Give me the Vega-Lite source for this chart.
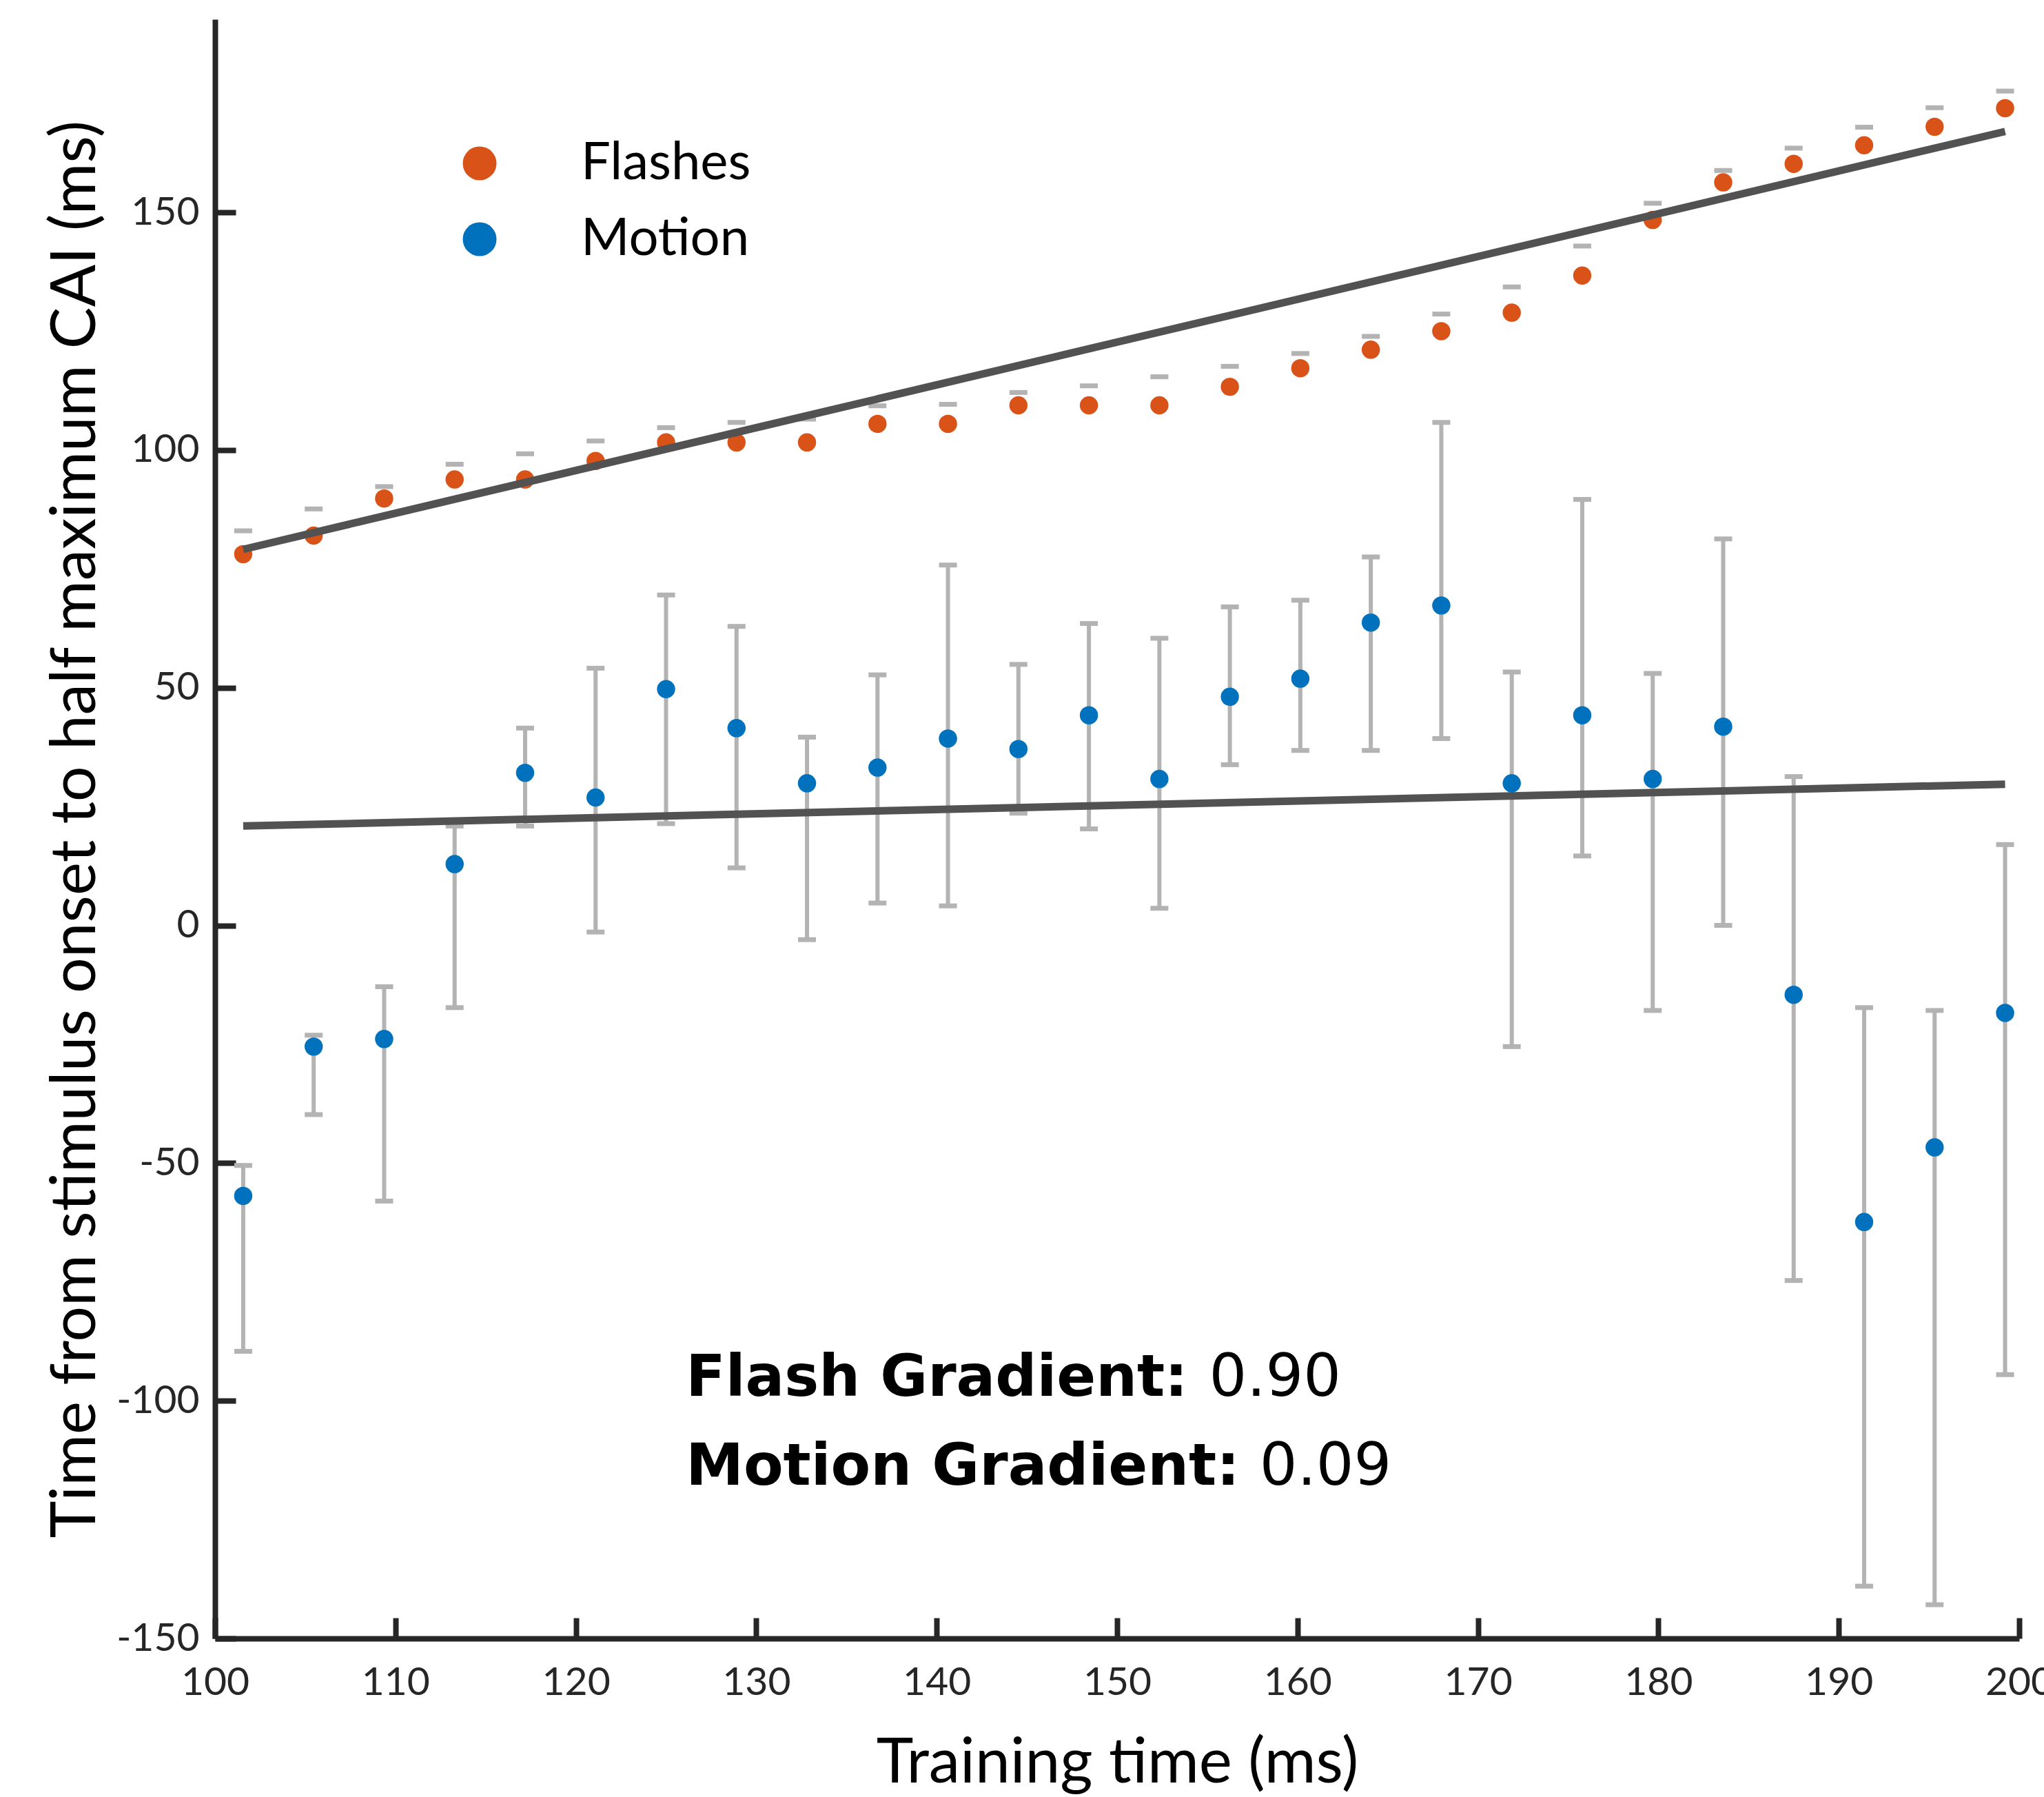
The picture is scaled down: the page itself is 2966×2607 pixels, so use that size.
{
  "$schema": "https://vega.github.io/schema/vega-lite/v6.json",
  "width": 2618,
  "height": 2349,
  "autosize": {"type": "none"},
  "padding": {"left": 312, "top": 28, "right": 36, "bottom": 230},
  "background": "white",
  "config": {
    "view": {"stroke": null},
    "axis": {
      "domainColor": "#262626", "domainWidth": 8,
      "tickColor": "#262626", "tickWidth": 8, "tickSize": -30,
      "labelFont": "Lato", "labelFontSize": 57, "labelColor": "#262626",
      "titleFont": "Lato", "titleFontSize": 91, "titleColor": "#000000", "titleFontWeight": "normal",
      "grid": false
    },
    "legend": {
      "orient": "none", "legendX": 346, "legendY": 171, "padding": 0,
      "symbolSize": 2400, "symbolType": "circle", "symbolStrokeWidth": 0, "symbolOpacity": 1,
      "labelFont": "Lato", "labelFontSize": 76, "labelColor": "#000000", "labelLimit": 0,
      "labelOffset": 109, "rowPadding": 34
    }
  },
  "datasets": {
    "pts": [
      {"series": "Flashes", "t": 101.5625, "y": 78.1, "hi": 83.0},
      {"series": "Flashes", "t": 105.46875, "y": 82.0, "hi": 87.6},
      {"series": "Flashes", "t": 109.375, "y": 89.8, "hi": 92.3},
      {"series": "Flashes", "t": 113.28125, "y": 93.8, "hi": 97.0},
      {"series": "Flashes", "t": 117.1875, "y": 93.8, "hi": 99.2},
      {"series": "Flashes", "t": 121.09375, "y": 97.7, "hi": 101.9},
      {"series": "Flashes", "t": 125.0, "y": 101.6, "hi": 104.7},
      {"series": "Flashes", "t": 128.90625, "y": 101.6, "hi": 105.8},
      {"series": "Flashes", "t": 132.8125, "y": 101.6, "hi": 106.5},
      {"series": "Flashes", "t": 136.71875, "y": 105.5, "hi": 109.3},
      {"series": "Flashes", "t": 140.625, "y": 105.5, "hi": 109.6},
      {"series": "Flashes", "t": 144.53125, "y": 109.4, "hi": 112.1},
      {"series": "Flashes", "t": 148.4375, "y": 109.4, "hi": 113.5},
      {"series": "Flashes", "t": 152.34375, "y": 109.4, "hi": 115.4},
      {"series": "Flashes", "t": 156.25, "y": 113.3, "hi": 117.6},
      {"series": "Flashes", "t": 160.15625, "y": 117.2, "hi": 120.3},
      {"series": "Flashes", "t": 164.0625, "y": 121.1, "hi": 123.9},
      {"series": "Flashes", "t": 167.96875, "y": 125.0, "hi": 128.6},
      {"series": "Flashes", "t": 171.875, "y": 128.9, "hi": 134.3},
      {"series": "Flashes", "t": 175.78125, "y": 136.7, "hi": 142.9},
      {"series": "Flashes", "t": 179.6875, "y": 148.4, "hi": 151.9},
      {"series": "Flashes", "t": 183.59375, "y": 156.3, "hi": 158.8},
      {"series": "Flashes", "t": 187.5, "y": 160.2, "hi": 163.5},
      {"series": "Flashes", "t": 191.40625, "y": 164.1, "hi": 167.9},
      {"series": "Flashes", "t": 195.3125, "y": 168.0, "hi": 172.0},
      {"series": "Flashes", "t": 199.21875, "y": 171.9, "hi": 175.5},
      {"series": "Motion", "t": 101.5625, "y": -56.9, "hi": -50.5, "lo": -89.6},
      {"series": "Motion", "t": 105.46875, "y": -25.5, "hi": -23.1, "lo": -39.8},
      {"series": "Motion", "t": 109.375, "y": -23.9, "hi": -12.9, "lo": -58.0},
      {"series": "Motion", "t": 113.28125, "y": 12.9, "hi": 20.9, "lo": -17.3},
      {"series": "Motion", "t": 117.1875, "y": 32.1, "hi": 41.5, "lo": 20.9},
      {"series": "Motion", "t": 121.09375, "y": 26.9, "hi": 54.1, "lo": -1.4},
      {"series": "Motion", "t": 125.0, "y": 49.7, "hi": 69.5, "lo": 21.4},
      {"series": "Motion", "t": 128.90625, "y": 41.5, "hi": 62.9, "lo": 12.1},
      {"series": "Motion", "t": 132.8125, "y": 29.9, "hi": 39.6, "lo": -3.0},
      {"series": "Motion", "t": 136.71875, "y": 33.2, "hi": 52.7, "lo": 4.7},
      {"series": "Motion", "t": 140.625, "y": 39.3, "hi": 75.8, "lo": 4.1},
      {"series": "Motion", "t": 144.53125, "y": 37.1, "hi": 54.9, "lo": 23.6},
      {"series": "Motion", "t": 148.4375, "y": 44.2, "hi": 63.5, "lo": 20.3},
      {"series": "Motion", "t": 152.34375, "y": 30.8, "hi": 60.4, "lo": 3.6},
      {"series": "Motion", "t": 156.25, "y": 48.1, "hi": 67.0, "lo": 33.8},
      {"series": "Motion", "t": 160.15625, "y": 51.9, "hi": 68.4, "lo": 36.8},
      {"series": "Motion", "t": 164.0625, "y": 63.7, "hi": 77.5, "lo": 36.8},
      {"series": "Motion", "t": 167.96875, "y": 67.3, "hi": 105.8, "lo": 39.3},
      {"series": "Motion", "t": 171.875, "y": 29.9, "hi": 53.3, "lo": -25.5},
      {"series": "Motion", "t": 175.78125, "y": 44.2, "hi": 89.6, "lo": 14.6},
      {"series": "Motion", "t": 179.6875, "y": 30.8, "hi": 53.0, "lo": -17.9},
      {"series": "Motion", "t": 183.59375, "y": 41.8, "hi": 81.3, "lo": 0.0},
      {"series": "Motion", "t": 187.5, "y": -14.6, "hi": 31.3, "lo": -74.7},
      {"series": "Motion", "t": 191.40625, "y": -62.4, "hi": -17.3, "lo": -139.0},
      {"series": "Motion", "t": 195.3125, "y": -46.7, "hi": -17.9, "lo": -142.9},
      {"series": "Motion", "t": 199.21875, "y": -18.4, "hi": 17.0, "lo": -94.5}
    ],
    "fits": [
      {"series": "Flashes", "t": 101.5625, "y": 79.1},
      {"series": "Flashes", "t": 199.21875, "y": 167.0},
      {"series": "Motion", "t": 101.5625, "y": 20.9},
      {"series": "Motion", "t": 199.21875, "y": 29.7}
    ],
    "notes": [
      {"t": 126.1, "y": -98.9, "txt": "Flash Gradient:", "w": "bold"},
      {"t": 155.1, "y": -98.9, "txt": "0.90", "w": "normal"},
      {"t": 126.1, "y": -117.6, "txt": "Motion Gradient:", "w": "bold"},
      {"t": 157.9, "y": -117.6, "txt": "0.09", "w": "normal"}
    ]
  },
  "encoding": {
    "x": {
      "field": "t", "type": "quantitative",
      "scale": {"domain": [100, 200], "nice": false, "zero": false},
      "axis": {
        "title": "Training time (ms)", "values": [100, 110, 120, 130, 140, 150, 160, 170, 180, 190, 200],
        "labelPadding": 66, "titleBaseline": "alphabetic", "titleY": 208, "labelFlush": false, "labelOverlap": false
      }
    },
    "y": {
      "field": "y", "type": "quantitative",
      "scale": {"domain": [-150, 190.6], "nice": false, "zero": false},
      "axis": {
        "title": "Time from stimulus onset to half maximum CAI (ms)",
        "values": [-150, -100, -50, 0, 50, 100, 150],
        "labelExpr": "datum.value < 0 ? '-' + abs(datum.value) : '' + datum.value",
        "labelPadding": 53, "titleBaseline": "alphabetic", "titleX": -175, "labelFlush": false, "labelOverlap": false
      }
    }
  },
  "layer": [
    {
      "data": {"name": "pts"},
      "transform": [{"filter": "datum.series === 'Motion'"}],
      "mark": {"type": "rule", "color": "#b3b3b3", "strokeWidth": 6},
      "encoding": {"y": {"field": "lo", "type": "quantitative"}, "y2": {"field": "hi"}}
    },
    {
      "data": {"name": "pts"},
      "mark": {"type": "tick", "orient": "horizontal", "color": "#b3b3b3", "size": 26, "thickness": 7, "opacity": 1},
      "encoding": {"y": {"field": "hi", "type": "quantitative"}}
    },
    {
      "data": {"name": "pts"},
      "transform": [{"filter": "datum.series === 'Motion'"}],
      "mark": {"type": "tick", "orient": "horizontal", "color": "#b3b3b3", "size": 26, "thickness": 7, "opacity": 1},
      "encoding": {"y": {"field": "lo", "type": "quantitative"}}
    },
    {
      "data": {"name": "pts"},
      "mark": {"type": "point", "filled": true, "size": 700, "opacity": 1, "strokeWidth": 0},
      "encoding": {
        "color": {
          "field": "series", "type": "nominal",
          "scale": {"domain": ["Flashes", "Motion"], "range": ["#D95319", "#0072BD"]},
          "legend": {"title": null}
        }
      }
    },
    {
      "data": {"name": "fits"},
      "mark": {"type": "line", "color": "#525252", "strokeWidth": 11, "strokeCap": "butt"},
      "encoding": {"detail": {"field": "series", "type": "nominal"}}
    },
    {
      "data": {"name": "notes"},
      "transform": [{"filter": "datum.w === 'bold'"}],
      "mark": {"type": "text", "font": "DejaVu Sans", "fontSize": 84, "fontWeight": "bold", "align": "left", "baseline": "alphabetic", "color": "#000000"},
      "encoding": {"text": {"field": "txt"}}
    },
    {
      "data": {"name": "notes"},
      "transform": [{"filter": "datum.w === 'normal'"}],
      "mark": {"type": "text", "font": "DejaVu Sans", "fontSize": 86, "fontWeight": "normal", "align": "left", "baseline": "alphabetic", "color": "#000000"},
      "encoding": {"text": {"field": "txt"}}
    }
  ]
}
